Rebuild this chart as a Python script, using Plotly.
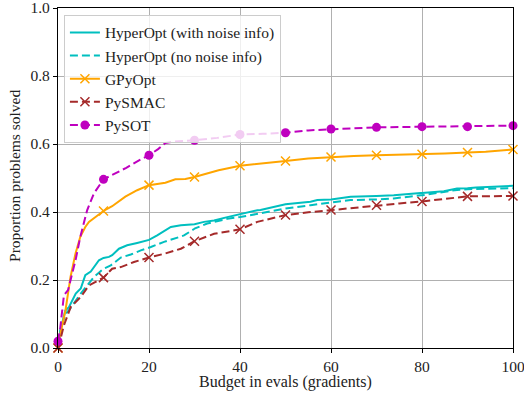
import plotly.graph_objects as go

# ---- data ----
hyp_noise_x = [0, 0.5, 1.6, 2.4, 3.9, 5, 6, 7.2, 9, 10, 11.2, 11.9, 13.4, 15.2, 17.4, 19.6, 20, 21.8, 24.8, 27, 29.9, 30, 32.1, 34.3, 37.2, 40, 43.8, 44.5, 50, 55.5, 57, 60, 64.3, 70, 73.8, 79.7, 80, 84.8, 87.7, 90, 91.9, 100]
hyp_noise_y = [0.0, 0.05, 0.11, 0.12, 0.16, 0.175, 0.214, 0.225, 0.258, 0.265, 0.268, 0.273, 0.292, 0.302, 0.309, 0.317, 0.318, 0.331, 0.356, 0.361, 0.363, 0.364, 0.371, 0.375, 0.385, 0.394, 0.405, 0.406, 0.423, 0.430, 0.435, 0.437, 0.445, 0.447, 0.449, 0.456, 0.456, 0.461, 0.469, 0.470, 0.472, 0.477]

hyp_nonoise_x = [0, 0.5, 1.6, 2.4, 5, 7.9, 10, 11.6, 13.8, 16, 18.2, 20, 20.4, 23.3, 25.5, 27.7, 29.9, 30, 32.8, 37.2, 40, 43.8, 44.5, 50, 55.5, 60, 64.3, 70, 73.8, 79.7, 80, 87.7, 90, 100]
hyp_nonoise_y = [0.0, 0.05, 0.10, 0.111, 0.16, 0.209, 0.233, 0.243, 0.266, 0.275, 0.287, 0.295, 0.297, 0.312, 0.322, 0.331, 0.35, 0.351, 0.366, 0.380, 0.385, 0.395, 0.396, 0.41, 0.42, 0.428, 0.435, 0.437, 0.44, 0.449, 0.449, 0.465, 0.467, 0.470]

gpy_x = [0, 0.2, 1.65, 2.75, 3.85, 4.9, 6, 6.8, 10, 11.9, 14.8, 17.4, 20, 23.6, 25.8, 28, 30, 35.3, 40, 44.5, 50, 55, 60, 65, 70, 75, 80, 85, 90, 94, 100]
gpy_y = [0.0, 0.023, 0.111, 0.209, 0.278, 0.327, 0.356, 0.371, 0.403, 0.417, 0.445, 0.464, 0.479, 0.486, 0.496, 0.497, 0.503, 0.523, 0.536, 0.543, 0.550, 0.557, 0.562, 0.565, 0.567, 0.568, 0.570, 0.572, 0.575, 0.577, 0.584]

smac_x = [0, 0.2, 1.3, 2.8, 5, 6.8, 10, 11.9, 13.8, 16.7, 20, 23.3, 27, 30, 34.3, 40, 43.8, 50, 55, 60, 65, 70, 75, 80, 85, 90, 100]
smac_y = [0.0, 0.008, 0.067, 0.121, 0.15, 0.184, 0.207, 0.233, 0.238, 0.253, 0.266, 0.277, 0.292, 0.314, 0.336, 0.349, 0.371, 0.391, 0.399, 0.406, 0.413, 0.420, 0.425, 0.431, 0.438, 0.446, 0.447]

sot_x = [0, 0.5, 1.3, 2.2, 3.85, 4.9, 6.4, 7.9, 10, 12.6, 15, 18, 20, 22, 23.6, 25.5, 30, 35, 40, 45, 50, 55, 60, 65, 70, 80, 90, 100]
sot_y = [0.02, 0.06, 0.155, 0.17, 0.258, 0.327, 0.405, 0.455, 0.496, 0.513, 0.53, 0.553, 0.567, 0.585, 0.603, 0.607, 0.611, 0.618, 0.628, 0.630, 0.633, 0.640, 0.644, 0.646, 0.649, 0.651, 0.651, 0.654]

names = ["HyperOpt (with noise info)", "HyperOpt (no noise info)", "GPyOpt", "PySMAC", "PySOT"]
colors = ["#00BFBF", "#00BFBF", "#FFA500", "#A52A2A", "#BF00BF"]
dashes = ["solid", "8px,4px", "solid", "8px,4px", "8px,4px"]
symbols = [None, None, "x-thin", "x-thin", "circle"]

x_title = "Budget in evals (gradients)"
y_title = "Proportion problems solved"

series = [(hyp_noise_x, hyp_noise_y), (hyp_nonoise_x, hyp_nonoise_y), (gpy_x, gpy_y), (smac_x, smac_y), (sot_x, sot_y)]

FONT = "Liberation Serif"
TXT = "#222"
fig = go.Figure()


def marker_style(sym, col):
    if sym == "circle":
        return dict(symbol="circle", size=9, color=col)
    return dict(symbol="x-thin", size=9, line=dict(color=col, width=1.5), color=col)


for (xs, ys), name, col, dash, sym in zip(series, names, colors, dashes, symbols):
    fig.add_trace(go.Scatter(x=xs, y=ys, mode="lines", line=dict(color=col, width=2, dash=dash),
                             showlegend=False, hoverinfo="skip"))
    if sym:
        mx = [x for x in xs if x % 10 == 0]
        my = [y for x, y in zip(xs, ys) if x % 10 == 0]
        fig.add_trace(go.Scatter(x=mx, y=my, mode="markers", marker=marker_style(sym, col),
                                 showlegend=False, cliponaxis=False))
        fig.add_trace(go.Scatter(x=[None], y=[None], mode="lines+markers", name=name,
                                 line=dict(color=col, width=2, dash=dash), marker=marker_style(sym, col)))
    else:
        fig.add_trace(go.Scatter(x=[None], y=[None], mode="lines", name=name,
                                 line=dict(color=col, width=2, dash=dash)))

axis_common = dict(showline=True, linecolor="black", linewidth=1.2, mirror=True,
                   ticks="outside", ticklen=4, tickcolor="black", tickwidth=1,
                   showgrid=True, gridcolor="#b0b0b0", gridwidth=1, zeroline=False,
                   automargin=False, ticklabeloverflow="allow",
                   tickfont=dict(family=FONT, size=15.5, color=TXT))

fig.update_xaxes(range=[0, 100], tickvals=[0, 20, 40, 60, 80, 100], tickformat="d", **axis_common)
fig.update_yaxes(range=[0, 1], tickvals=[0, 0.2, 0.4, 0.6, 0.8, 1.0], tickformat=".1f", **axis_common)

fig.add_annotation(text=x_title, xref="paper", yref="paper", x=0.5, y=-0.1,
                   xanchor="center", yanchor="middle", showarrow=False,
                   font=dict(family=FONT, size=16, color=TXT))
fig.add_annotation(text=y_title, xref="paper", yref="paper", x=-0.0945, y=0.506, textangle=-90,
                   xanchor="center", yanchor="middle", showarrow=False,
                   font=dict(family=FONT, size=15.5, color=TXT))

fig.update_layout(
    width=524, height=396,
    margin=dict(l=58, r=11, t=8, b=48),
    plot_bgcolor="white", paper_bgcolor="white",
    font=dict(family=FONT, size=15.5, color=TXT),
    legend=dict(x=0.013, y=0.98, xanchor="left", yanchor="top",
                bgcolor="rgba(255,255,255,0.8)", bordercolor="#cccccc", borderwidth=1,
                font=dict(family=FONT, size=15.5, color=TXT), tracegroupgap=0),
)

fig.write_html("out.html")
